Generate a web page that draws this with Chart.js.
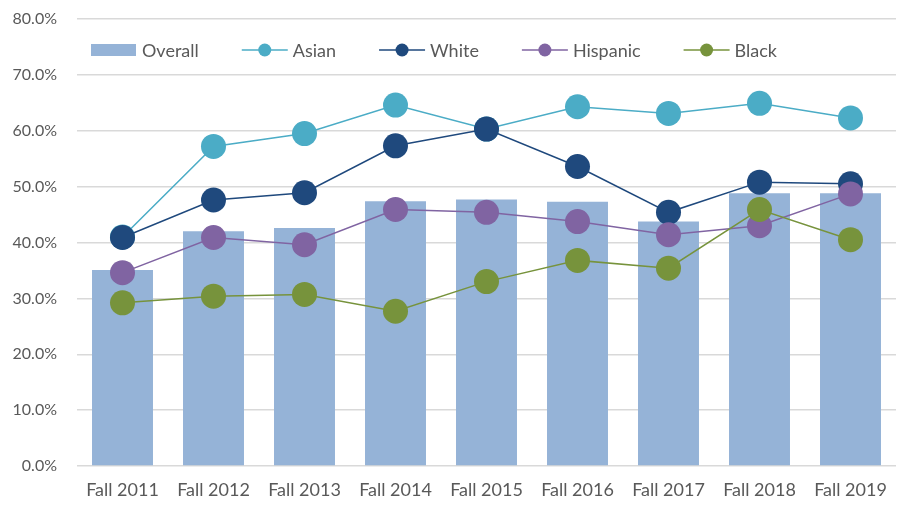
<!DOCTYPE html>
<html>
<head>
<meta charset="utf-8">
<script src="https://cdn.jsdelivr.net/npm/chart.js@4"></script>
<style>
  html, body { margin: 0; padding: 0; background: #fff; }
</style>
</head>
<body>
<canvas id="chart" width="900" height="509"></canvas>
<script>
const labels = ['Fall 2011', 'Fall 2012', 'Fall 2013', 'Fall 2014', 'Fall 2015', 'Fall 2016', 'Fall 2017', 'Fall 2018', 'Fall 2019'];
const overall  = [35.1, 42.0, 42.6, 47.4, 47.7, 47.3, 43.75, 48.8, 48.8];
const asian    = [41.0, 57.2, 59.5, 64.6, 60.3, 64.3, 63.1, 64.9, 62.3];
const white    = [40.9, 47.6, 48.9, 57.3, 60.3, 53.6, 45.4, 50.8, 50.5];
const hispanic = [34.6, 40.9, 39.6, 45.9, 45.4, 43.75, 41.4, 43.0, 48.7];
const black    = [29.2, 30.4, 30.7, 27.7, 33.0, 36.8, 35.4, 45.9, 40.5];
const yMin = 0, yMax = 80, yStep = 10;

const textColor = '#595959';

function lineSet(label, data, color, order) {
  return {
    type: 'line',
    label: label,
    data: data,
    borderColor: color,
    backgroundColor: color,
    borderWidth: 1.5,
    pointRadius: 12.5,
    pointHoverRadius: 12.5,
    pointBorderWidth: 0,
    pointBackgroundColor: color,
    tension: 0,
    fill: false,
    order: order
  };
}

// legend sits inside the plot, between the 80% and 70% lines
const insideLegend = {
  id: 'insideLegend',
  afterDraw(chart) {
    const ctx = chart.ctx;
    let x = 91;
    const y = 50;
    ctx.save();
    ctx.font = '18px Lato';
    ctx.textBaseline = 'middle';
    chart.data.datasets.forEach(ds => {
      if (ds.type === 'line') {
        ctx.strokeStyle = ds.borderColor;
        ctx.lineWidth = 1.5;
        ctx.beginPath();
        ctx.moveTo(x, y);
        ctx.lineTo(x + 46, y);
        ctx.stroke();
        ctx.fillStyle = ds.borderColor;
        ctx.beginPath();
        ctx.arc(x + 23, y, 6.5, 0, Math.PI * 2);
        ctx.fill();
      } else {
        ctx.fillStyle = ds.backgroundColor;
        ctx.fillRect(x, y - 6, 45, 12);
      }
      x += 51;
      ctx.fillStyle = textColor;
      ctx.fillText(ds.label, x, y + 1);
      x += ctx.measureText(ds.label).width + 43;
    });
    ctx.restore();
  }
};

const ctx = document.getElementById('chart').getContext('2d');

new Chart(ctx, {
  type: 'bar',
  data: {
    labels: labels,
    datasets: [
      {
        label: 'Overall',
        data: overall,
        backgroundColor: '#95B3D7',
        barPercentage: 0.67,
        categoryPercentage: 1.0,
        order: 5
      },
      lineSet('Asian', asian, '#4BACC6', 4),
      lineSet('White', white, '#1F497D', 3),
      lineSet('Hispanic', hispanic, '#8064A2', 2),
      lineSet('Black', black, '#77933C', 1)
    ]
  },
  options: {
    responsive: false,
    animation: false,
    layout: {
      autoPadding: false,
      padding: { top: 19, right: 4, left: 0, bottom: 0 }
    },
    plugins: {
      legend: { display: false },
      tooltip: { enabled: false }
    },
    scales: {
      x: {
        grid: { display: false, drawTicks: false },
        border: { display: false },
        ticks: {
          color: textColor,
          font: { family: 'Lato', size: 18 },
          padding: 13,
          maxRotation: 0
        },
        afterFit: function(scale) {
          scale.height = 43;
          scale.paddingLeft = 0;
          scale.paddingRight = 0;
        }
      },
      y: {
        min: yMin,
        max: yMax,
        grid: { color: '#D9D9D9', lineWidth: 1.5, drawTicks: false },
        border: { display: false },
        ticks: {
          stepSize: yStep,
          color: textColor,
          font: { family: 'Lato', size: 16 },
          padding: 20,
          callback: function(value) { return value.toFixed(1) + '%'; }
        },
        afterFit: function(scale) {
          scale.width = 77;
          scale.paddingTop = 0;
          scale.paddingBottom = 0;
        }
      }
    }
  },
  plugins: [insideLegend]
});
</script>
</body>
</html>
